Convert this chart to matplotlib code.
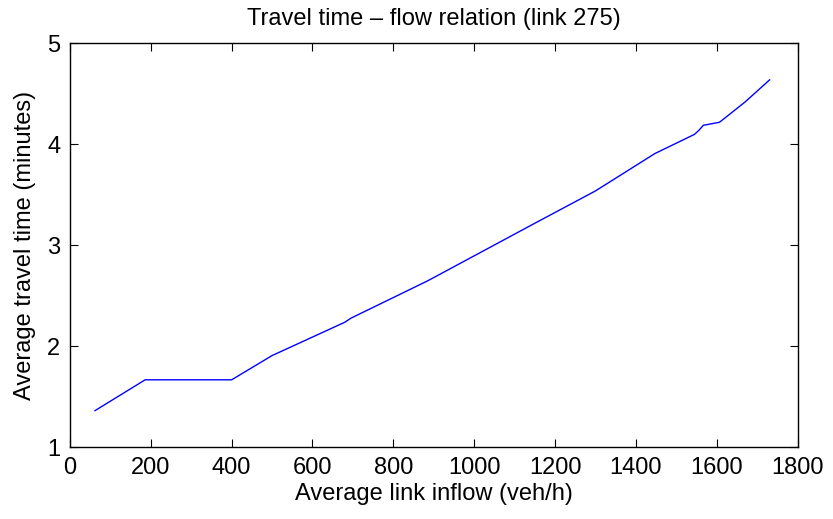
import matplotlib
matplotlib.use("Agg")
import matplotlib.pyplot as plt

inflow = [62, 186, 400, 500, 680, 695, 885, 1150, 1300, 1447, 1545, 1556, 1567, 1607, 1670, 1731]
travel_time = [1.365, 1.67, 1.67, 1.91, 2.24, 2.28, 2.65, 3.22, 3.54, 3.91, 4.10, 4.14, 4.19, 4.22, 4.42, 4.64]
xticks = [0, 200, 400, 600, 800, 1000, 1200, 1400, 1600, 1800]
yticks = [1, 2, 3, 4, 5]

plt.rcParams['font.family'] = ['Liberation Sans', 'DejaVu Sans']

fig = plt.figure(figsize=(8.33, 5.19), dpi=100)
ax = fig.add_axes([0.0840, 0.1378, 0.9574 - 0.0840, 0.9162 - 0.1378])
ax.plot(inflow, travel_time, color=(0, 0, 1), linewidth=1.0)
ax.set_xlim(0, 1800)
ax.set_ylim(1, 5)
ax.set_xticks(xticks)
ax.set_yticks(yticks)
ax.tick_params(direction='in', top=True, right=True, length=6, width=0.8, labelsize=17)
ax.tick_params(axis='x', pad=7)
ax.tick_params(axis='y', pad=7)
for s in ax.spines.values():
    s.set_linewidth(1.0)
ax.set_xlabel('Average link inflow (veh/h)', fontsize=17, labelpad=3)
ax.set_ylabel('Average travel time (minutes)', fontsize=17, labelpad=8)
ax.set_title('Travel time \u2013 flow relation (link 275)', fontsize=17, pad=13)
fig.savefig('out.png', dpi=100)
